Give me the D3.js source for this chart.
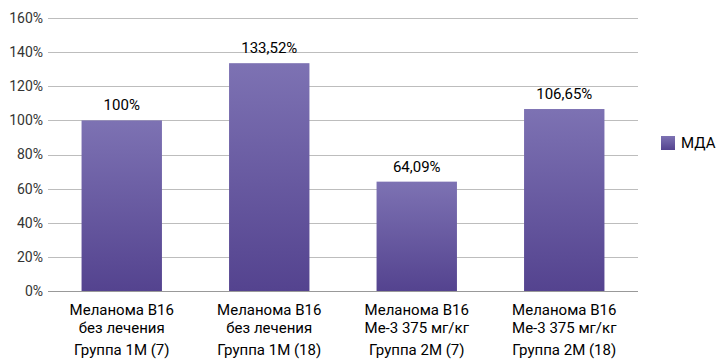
<!DOCTYPE html>
<meta charset="utf-8">
<script src="https://d3js.org/d3.v7.min.js"></script>
<style>
body { margin: 0; background: #fff; }
text { font-family: Roboto, "Open Sans", sans-serif; fill: #000; }
.grid line { stroke: #bdbdbd; stroke-width: 1; shape-rendering: crispEdges; }
.grid path { stroke-width: 0; }
.tick text { font-size: 14px; fill: #333; }
</style>
<div id="chart"></div>
<script>
// data
var categories = ["g1", "g2", "g3", "g4"];
var labelLines = [
    ["Меланома B16", "без лечения", "Группа 1М (7)"],
    ["Меланома B16", "без лечения", "Группа 1М (18)"],
    ["Меланома B16", "Ме-3 375 мг/кг", "Группа 2М (7)"],
    ["Меланома B16", "Ме-3 375 мг/кг", "Группа 2М (18)"]
];
var values = [100, 133.52, 64.09, 106.65];
var valueLabels = ["100%", "133,52%", "64,09%", "106,65%"];
var yTicks = [0, 20, 40, 60, 80, 100, 120, 140, 160];
var seriesName = "МДА";

var margin = {top: 18, right: 82, bottom: 71, left: 48},
    width = 720 - margin.left - margin.right,
    height = 362 - margin.top - margin.bottom;

var svg = d3.select("#chart").append("svg")
    .attr("width", 720).attr("height", 362);

var defs = svg.append("defs");
var grad = defs.append("linearGradient")
    .attr("id", "barGrad").attr("x1", 0).attr("y1", 0).attr("x2", 0).attr("y2", 1);
grad.append("stop").attr("offset", "0%").attr("stop-color", "#7d72b3");
grad.append("stop").attr("offset", "100%").attr("stop-color", "#54438f");

var g = svg.append("g")
    .attr("transform", "translate(" + margin.left + "," + margin.top + ")");

var x = d3.scaleBand().domain(categories).range([0, width]).paddingInner(0.455).paddingOuter(0.2275);
var y = d3.scaleLinear().domain([0, 160]).range([height, 0]);

// gridlines + y labels
g.append("g")
    .attr("class", "grid")
    .call(d3.axisLeft(y).tickValues(yTicks).tickSize(-width).tickPadding(5)
        .tickFormat(function(d) { return d + "%"; }))
    .call(function(a) { a.select(".domain").remove(); });

g.selectAll(".bar")
    .data(values)
    .enter().append("rect")
    .attr("class", "bar")
    .attr("x", function(d, i) { return x(categories[i]); })
    .attr("y", function(d) { return y(d); })
    .attr("width", x.bandwidth())
    .attr("height", function(d) { return height - y(d); })
    .attr("fill", "url(#barGrad)");

// bottom axis line
g.append("line")
    .attr("x1", 0).attr("x2", width)
    .attr("y1", height + 0.5).attr("y2", height + 0.5)
    .attr("stroke", "#999").attr("stroke-width", 1);

g.selectAll(".vlabel")
    .data(values)
    .enter().append("text")
    .attr("class", "vlabel")
    .attr("x", function(d, i) { return x(categories[i]) + x.bandwidth() / 2; })
    .attr("y", function(d) { return y(d) - 10; })
    .attr("text-anchor", "middle")
    .style("font-size", "15px")
    .text(function(d, i) { return valueLabels[i]; });

// category labels, one text per line
var lineY = [24, 42, 64];
categories.forEach(function(c, i) {
    labelLines[i].forEach(function(s, j) {
        g.append("text")
            .attr("text-anchor", "middle")
            .style("font-size", "15px")
            .attr("x", x(c) + x.bandwidth() / 2)
            .attr("y", height + lineY[j])
            .text(s);
    });
});

// legend
var legend = svg.append("g").attr("transform", "translate(661,136)");
legend.append("rect").attr("width", 14).attr("height", 14).attr("fill", "url(#barGrad)");
legend.append("text").attr("x", 20).attr("y", 12).style("font-size", "15px").text(seriesName);
</script>
